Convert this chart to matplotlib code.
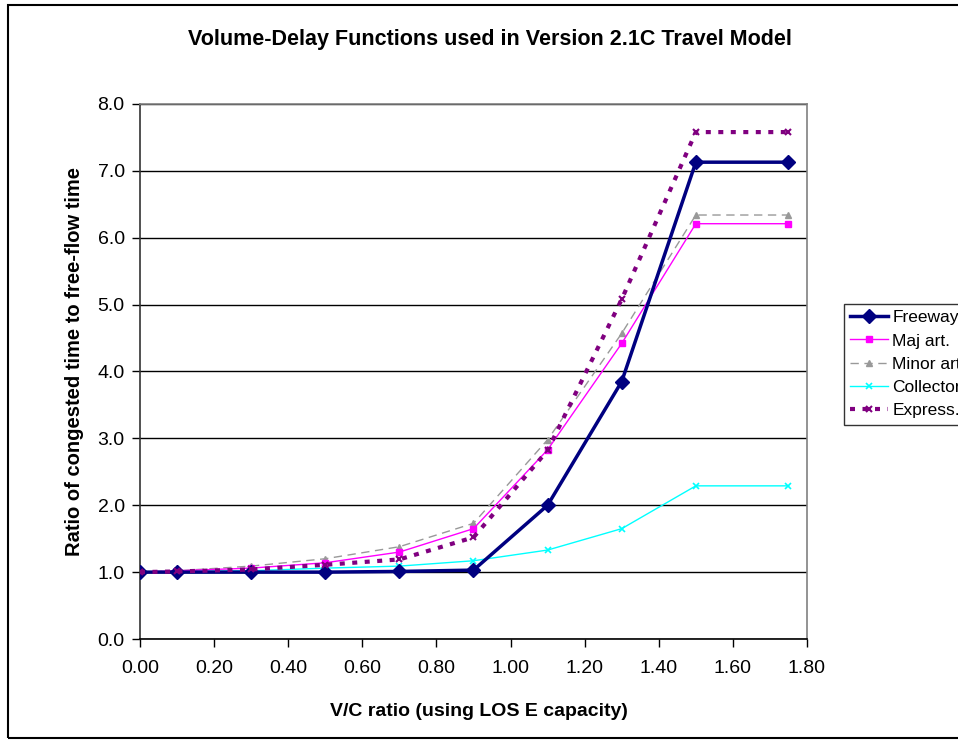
import matplotlib
matplotlib.use("Agg")
import matplotlib.pyplot as plt
from matplotlib.patches import Rectangle

plt.rcParams['font.family'] = ['Liberation Sans', 'DejaVu Sans']

vc_ratio = [0.0, 0.1, 0.3, 0.5, 0.7, 0.9, 1.1, 1.3, 1.5, 1.75]
freeway = [1.00, 1.00, 1.00, 1.00, 1.01, 1.03, 2.00, 3.85, 7.13, 7.13]
maj_art = [1.00, 1.02, 1.06, 1.14, 1.30, 1.65, 2.83, 4.42, 6.21, 6.21]
minor_art = [1.00, 1.02, 1.09, 1.20, 1.38, 1.73, 2.98, 4.57, 6.34, 6.34]
collector = [1.00, 1.01, 1.02, 1.06, 1.09, 1.17, 1.33, 1.65, 2.29, 2.29]
express = [1.00, 1.01, 1.04, 1.11, 1.19, 1.52, 2.82, 5.08, 7.58, 7.58]

x_ticks = [0.0, 0.2, 0.4, 0.6, 0.8, 1.0, 1.2, 1.4, 1.6, 1.8]
y_ticks = [0, 1, 2, 3, 4, 5, 6, 7, 8]

W, H = 958, 740
fig = plt.figure(figsize=(W / 100, H / 100), dpi=100)

# outer chart border
fig.patches.append(Rectangle((8 / W, 1 - 738 / H), 2.0, (738 - 5) / H,
                             transform=fig.transFigure, fill=False,
                             edgecolor='black', linewidth=1.5, zorder=0))

ax = fig.add_axes([140 / W, 1 - 639 / H, (807 - 140) / W, (639 - 104) / H])

ax.plot(vc_ratio, freeway, color='#000080', lw=2.5, marker='D', ms=7,
        label='Freeway', zorder=5)
ax.plot(vc_ratio, maj_art, color='#FF00FF', lw=1.0, marker='s', ms=4.5,
        label='Maj art.', zorder=4)
ax.plot(vc_ratio, minor_art, color='#999999', lw=1.0, ls=(0, (6, 4)), marker='^',
        ms=5, label='Minor art', zorder=3)
ax.plot(vc_ratio, collector, color='#00FFFF', lw=1.0, marker='x', ms=5,
        mew=1.2, label='Collector', zorder=3)
ax.plot(vc_ratio, express, color='#800080', lw=3.0, ls=(0, (1.2, 1.8)),
        marker='x', ms=5, mew=1.5, label='Express.', zorder=6)

ax.set_xlim(0, 1.8)
ax.set_ylim(0, 8)
ax.set_xticks(x_ticks)
ax.set_xticklabels([f"{v:.2f}" for v in x_ticks])
ax.set_yticks(y_ticks)
ax.set_yticklabels([f"{v:.1f}" for v in y_ticks])
ax.tick_params(axis='both', direction='out', length=6, width=1, labelsize=14,
               color='black', labelcolor='black')
ax.tick_params(axis='x', pad=9)
ax.tick_params(axis='y', pad=5)
ax.yaxis.grid(True, color='black', lw=1)
ax.set_axisbelow(True)
ax.spines['left'].set_color('#333333')
ax.spines['bottom'].set_color('black')
ax.spines['top'].set_color('#808080')
ax.spines['right'].set_color('#808080')
for s in ax.spines.values():
    s.set_linewidth(1.2)

fig.text(490 / W, 1 - 40 / H, 'Volume-Delay Functions used in Version 2.1C Travel Model',
         ha='center', va='center', fontsize=15.5, fontweight='bold')
fig.text(479 / W, 1 - 712 / H, 'V/C ratio (using LOS E capacity)',
         ha='center', va='center', fontsize=14, fontweight='bold')
fig.text(75 / W, 1 - 361 / H, 'Ratio of congested time to free-flow time',
         ha='center', va='center', rotation=90, fontsize=14.5, fontweight='bold')

leg = fig.legend(loc='upper left', bbox_to_anchor=(844 / W, 1 - 304 / H),
                 fontsize=12.5, frameon=True, fancybox=False, edgecolor='black',
                 borderpad=0.35, labelspacing=0.47, handlelength=2.2,
                 handletextpad=0.23, borderaxespad=0)
leg.get_frame().set_linewidth(1.0)

fig.savefig('out.png', dpi=100)
